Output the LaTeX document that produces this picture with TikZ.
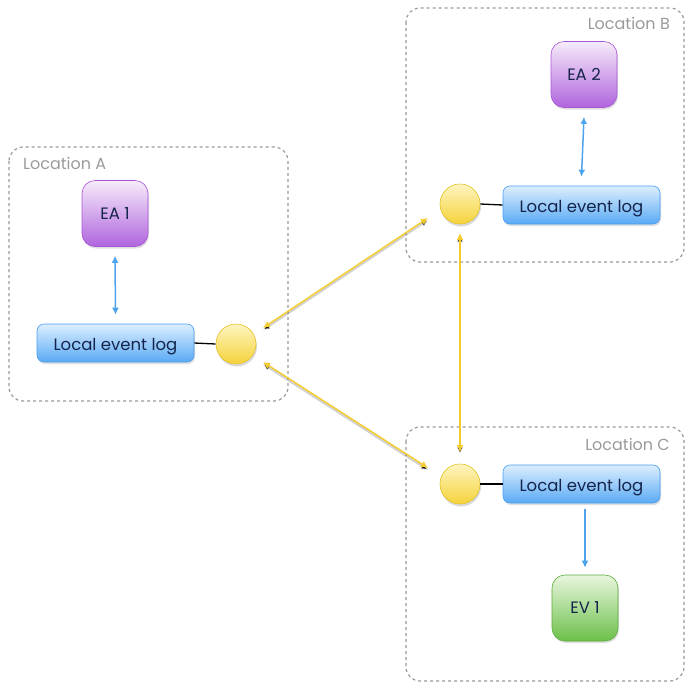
\documentclass[tikz,border=0pt]{standalone}
\usepackage{fontspec}
\setmainfont{Poppins}
\usetikzlibrary{shadows,arrows.meta}
\definecolor{txt}{HTML}{14244A}
\definecolor{locgray}{HTML}{9A9A9A}
\definecolor{bluetop}{HTML}{DCEEFE}
\definecolor{bluebot}{HTML}{5AAAF5}
\definecolor{blueline}{HTML}{4A9EF0}
\definecolor{purtop}{HTML}{F6ECFA}
\definecolor{purbot}{HTML}{B064DE}
\definecolor{purline}{HTML}{A855D8}
\definecolor{grtop}{HTML}{E8F6DE}
\definecolor{grbot}{HTML}{6CC04A}
\definecolor{grline}{HTML}{5DAA3A}
\definecolor{yeltop}{HTML}{FDF4C0}
\definecolor{yelbot}{HTML}{F5D33A}
\definecolor{yelline}{HTML}{E6C12A}
\definecolor{yelarrow}{HTML}{F2CC2E}
\definecolor{bluearrow}{HTML}{4DA3EE}
\tikzset{
  locbox/.style={draw=locgray, dashed, line width=1.2pt, rounded corners=14pt},
  loclabel/.style={text=locgray, font=\fontsize{16}{18}\selectfont, inner sep=0pt},
  logbox/.style={draw=blueline, line width=0.6pt, rounded corners=7pt, top color=bluetop, bottom color=bluebot,
    minimum width=157pt, minimum height=38pt, text=txt, font=\fontsize{16.5}{18}\selectfont,
    text height=15pt, text depth=0pt,
    drop shadow={opacity=0.25, shadow xshift=1pt, shadow yshift=-2pt}},
  eabox/.style={draw=purline, line width=0.6pt, rounded corners=13pt, top color=purtop, bottom color=purbot,
    minimum width=66pt, minimum height=66pt, text=txt, font=\fontsize{16.5}{18}\selectfont,
    drop shadow={opacity=0.25, shadow xshift=1pt, shadow yshift=-2pt}},
  evbox/.style={draw=grline, line width=0.6pt, rounded corners=13pt, top color=grtop, bottom color=grbot,
    minimum width=66pt, minimum height=66pt, text=txt, font=\fontsize{16.5}{18}\selectfont,
    drop shadow={opacity=0.25, shadow xshift=1pt, shadow yshift=-2pt}},
  hub/.style={circle, draw=yelline, line width=0.6pt, top color=yeltop, bottom color=yelbot,
    minimum size=40pt, inner sep=0pt,
    drop shadow={opacity=0.3, shadow xshift=1pt, shadow yshift=-2.5pt}},
  bluearr/.style={draw=bluearrow, line width=1.5pt, -{Latex[length=7pt,width=7pt]}},
  bluearr2/.style={draw=bluearrow, line width=1.5pt, {Latex[length=7pt,width=7pt]}-{Latex[length=7pt,width=7pt]}},
  yelarr/.style={draw=yelarrow, line width=1.5pt, {Latex[length=7pt,width=7pt]}-{Latex[length=7pt,width=7pt]},
    preaction={draw=black, draw opacity=0.18, line width=2pt, transform canvas={yshift=-2pt}}},
  link/.style={draw=black, line width=1.3pt}
}
\begin{document}
\begin{tikzpicture}[x=1pt,y=-1pt]
\useasboundingbox (0,0) rectangle (693,689);
% location boxes
\draw[locbox] (9,147) rectangle (288,401);
\draw[locbox] (406,8) rectangle (684,262);
\draw[locbox] (406,427) rectangle (684,681);
\node[loclabel, anchor=west] (la) at (23,163) {Location A};
\node[loclabel, anchor=east] (lb) at (670,23) {Location B};
\node[loclabel, anchor=east] (lc) at (670,444) {Location C};
% nodes
\node[eabox] (ea1) at (115,213.5) {EA 1};
\node[logbox] (logA) at (115.5,343) {Local event log};
\node[hub] (hA) at (236,344) {};
\node[eabox] (ea2) at (584,74.5) {EA 2};
\node[logbox] (logB) at (581.5,205) {Local event log};
\node[hub] (hB) at (460,204) {};
\node[logbox] (logC) at (581.5,484) {Local event log};
\node[hub] (hC) at (460,484) {};
\node[evbox] (ev1) at (585,608) {EV 1};
% connectors
\draw[link] (logA.east) -- (hA.west);
\draw[link] (hB.east) -- (logB.west);
\draw[link] (hC.east) -- (logC.west);
\draw[bluearr2] ([yshift=-9pt]ea1.south) -- ([yshift=9pt]logA.north);
\draw[bluearr2] ([yshift=-9pt]ea2.south) -- ([yshift=9pt]logB.north);
\draw[bluearr] ([yshift=-6pt,xshift=3.5pt]logC.south) -- ([yshift=7pt]ev1.north);
\draw[yelarr] ([shift={(27pt,16pt)}]hA.center) -- ([shift={(-32pt,-14pt)}]hB.center);
\draw[yelarr] ([shift={(27pt,-18pt)}]hA.center) -- ([shift={(-32pt,16pt)}]hC.center);
\draw[yelarr] ([yshift=-29pt]hB.center) -- ([yshift=32pt]hC.center);
\end{tikzpicture}
\end{document}
